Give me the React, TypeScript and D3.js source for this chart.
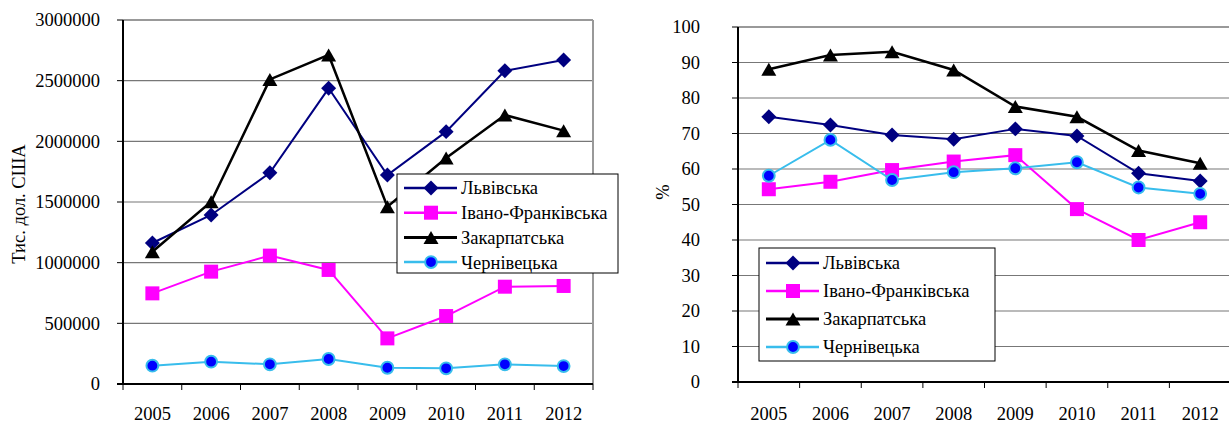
import React from 'react';
import * as d3 from 'd3';

const years = ['2005', '2006', '2007', '2008', '2009', '2010', '2011', '2012'];
const seriesNames = ['Львівська', 'Івано-Франківська', 'Закарпатська', 'Чернівецька'];

// left chart, тис. дол. США
const lvivExport = [1162000, 1393000, 1741000, 2437000, 1722000, 2080000, 2582000, 2670000];
const ivanoExport = [747000, 926000, 1058000, 940000, 376000, 560000, 802000, 808000];
const zakExport = [1090000, 1502000, 2510000, 2712000, 1461000, 1863000, 2217000, 2088000];
const chernExport = [151000, 184000, 162000, 206000, 134000, 129000, 162000, 148000];
const exportTicks = [0, 500000, 1000000, 1500000, 2000000, 2500000, 3000000];

// right chart, %
const lvivShare = [74.7, 72.4, 69.6, 68.4, 71.3, 69.3, 58.8, 56.6];
const ivanoShare = [54.3, 56.4, 59.7, 62.1, 63.9, 48.7, 40.0, 45.0];
const zakShare = [88.1, 92.1, 93.0, 87.9, 77.6, 74.7, 65.2, 61.6];
const chernShare = [58.1, 68.2, 56.9, 59.1, 60.2, 61.9, 54.8, 53.0];
const shareTicks = [0, 10, 20, 30, 40, 50, 60, 70, 80, 90, 100];

const styles = [
  { line: '#000080', width: 2, marker: 'diamond', fill: '#000080', stroke: '#000080' },
  { line: '#ff00ff', width: 2, marker: 'square', fill: '#ff00ff', stroke: '#ff00ff' },
  { line: '#000000', width: 2.5, marker: 'triangle', fill: '#000000', stroke: '#000000' },
  { line: '#38bdec', width: 2, marker: 'circle', fill: '#0000ff', stroke: '#38bdec' },
];

const FONT = '"Liberation Serif", "Times New Roman", serif';
const FS = 18.5;

function Marker({ kind, x, y, fill, stroke }: any) {
  if (kind === 'diamond') {
    const p = d3.symbol().type(d3.symbolSquare).size(112)();
    return <path d={p || ''} transform={`translate(${x},${y}) rotate(45)`} fill={fill} />;
  }
  if (kind === 'square') {
    const p = d3.symbol().type(d3.symbolSquare).size(196)();
    return <path d={p || ''} transform={`translate(${x},${y})`} fill={fill} />;
  }
  if (kind === 'triangle') {
    const tri = d3.line()([[0, -6.5], [7.5, 6.5], [-7.5, 6.5]]) + 'Z';
    return <path d={tri} transform={`translate(${x},${y})`} fill={fill} />;
  }
  const p = d3.symbol().type(d3.symbolCircle).size(110)();
  return <path d={p || ''} transform={`translate(${x},${y})`} fill={fill} stroke={stroke} strokeWidth={2} />;
}

function LineChart({ plot, series, ticks, yMax, yTitle, titlePos, legend, rightBorder, labelGap }: any) {
  const x = d3.scaleBand().domain(years).range([plot.left, plot.right]);
  const y = d3.scaleLinear().domain([0, yMax]).range([plot.bottom, plot.top]);
  const line = d3.line<number>()
    .x((d, i) => (x(years[i]) as number) + x.bandwidth() / 2)
    .y((d) => y(d));
  const tickXs = years.map((yr) => x(yr) as number).concat([plot.right]);
  const txt = { fontFamily: FONT, fontSize: FS };

  return (
    <g fill="#000">
      {ticks.filter((t: number) => t > 0 && t < yMax).map((t: number) => (
        <line key={t} x1={plot.left} x2={plot.right} y1={y(t)} y2={y(t)} stroke="#777" strokeWidth={1.2} />
      ))}
      <line x1={plot.left} x2={plot.right} y1={y(yMax)} y2={y(yMax)} stroke="#999" strokeWidth={2} />
      {rightBorder && (
        <line x1={plot.right} x2={plot.right} y1={plot.top} y2={plot.bottom} stroke="#999" strokeWidth={2} />
      )}
      {/* axes */}
      <line x1={plot.left} x2={plot.left} y1={plot.top} y2={plot.bottom} stroke="#000" strokeWidth={2} />
      <line x1={plot.left - 6} x2={plot.right} y1={plot.bottom} y2={plot.bottom} stroke="#000" strokeWidth={2} />
      {ticks.map((t: number) => (
        <g key={'yt' + t}>
          <line x1={plot.left - 6} x2={plot.left} y1={y(t)} y2={y(t)} stroke="#000" strokeWidth={1} />
          <text x={plot.left - labelGap} y={y(t)} dy="0.35em" textAnchor="end" style={txt}>{t}</text>
        </g>
      ))}
      {tickXs.map((tx: number, i: number) => (
        <line key={'xt' + i} x1={tx} x2={tx} y1={plot.bottom} y2={plot.bottom + 6} stroke="#000" strokeWidth={1} />
      ))}
      {years.map((yr) => (
        <text key={yr} x={(x(yr) as number) + x.bandwidth() / 2} y={420} textAnchor="middle" style={txt}>{yr}</text>
      ))}
      <text transform={`translate(${titlePos[0]},${titlePos[1]}) rotate(-90)`} textAnchor="middle" dy="0.35em" style={txt}>{yTitle}</text>

      {series.map((vals: number[], si: number) => (
        <g key={'s' + si}>
          <path d={line(vals) || ''} fill="none" stroke={styles[si].line} strokeWidth={styles[si].width} />
          {vals.map((v, i) => (
            <Marker key={i} kind={styles[si].marker} x={(x(years[i]) as number) + x.bandwidth() / 2} y={y(v)}
              fill={styles[si].fill} stroke={styles[si].stroke} />
          ))}
        </g>
      ))}

      <rect x={legend.x} y={legend.y} width={legend.w} height={legend.h} fill="#fff" stroke="#000" strokeWidth={1} />
      {seriesNames.map((name, si) => {
        const ry = legend.y + legend.first + si * legend.step;
        return (
          <g key={name}>
            <line x1={legend.x + 7} x2={legend.x + 60} y1={ry} y2={ry} stroke={styles[si].line} strokeWidth={styles[si].width + 0.5} />
            <Marker kind={styles[si].marker} x={legend.x + 34} y={ry} fill={styles[si].fill} stroke={styles[si].stroke} />
            <text x={legend.x + 64} y={ry} dy="0.35em" style={txt}>{name}</text>
          </g>
        );
      })}
    </g>
  );
}

export default function App() {
  return (
    <svg width={1229} height={425} style={{ position: 'absolute', left: 0, top: 0, background: '#fff', fontFamily: FONT }}>
      <rect width={1229} height={425} fill="#fff" />
      <LineChart
        plot={{ left: 123, right: 593, top: 20, bottom: 384 }}
        series={[lvivExport, ivanoExport, zakExport, chernExport]}
        ticks={exportTicks}
        yMax={3000000}
        yTitle="Тис. дол. США"
        titlePos={[19, 204]}
        legend={{ x: 397, y: 174, w: 221, h: 99, first: 14, step: 24.7 }}
        rightBorder={true}
        labelGap={23}
      />
      <LineChart
        plot={{ left: 738, right: 1231, top: 27, bottom: 382 }}
        series={[lvivShare, ivanoShare, zakShare, chernShare]}
        ticks={shareTicks}
        yMax={100}
        yTitle="%"
        titlePos={[663, 192]}
        legend={{ x: 759, y: 248, w: 236, h: 113, first: 15, step: 28 }}
        rightBorder={false}
        labelGap={38}
      />
    </svg>
  );
}
